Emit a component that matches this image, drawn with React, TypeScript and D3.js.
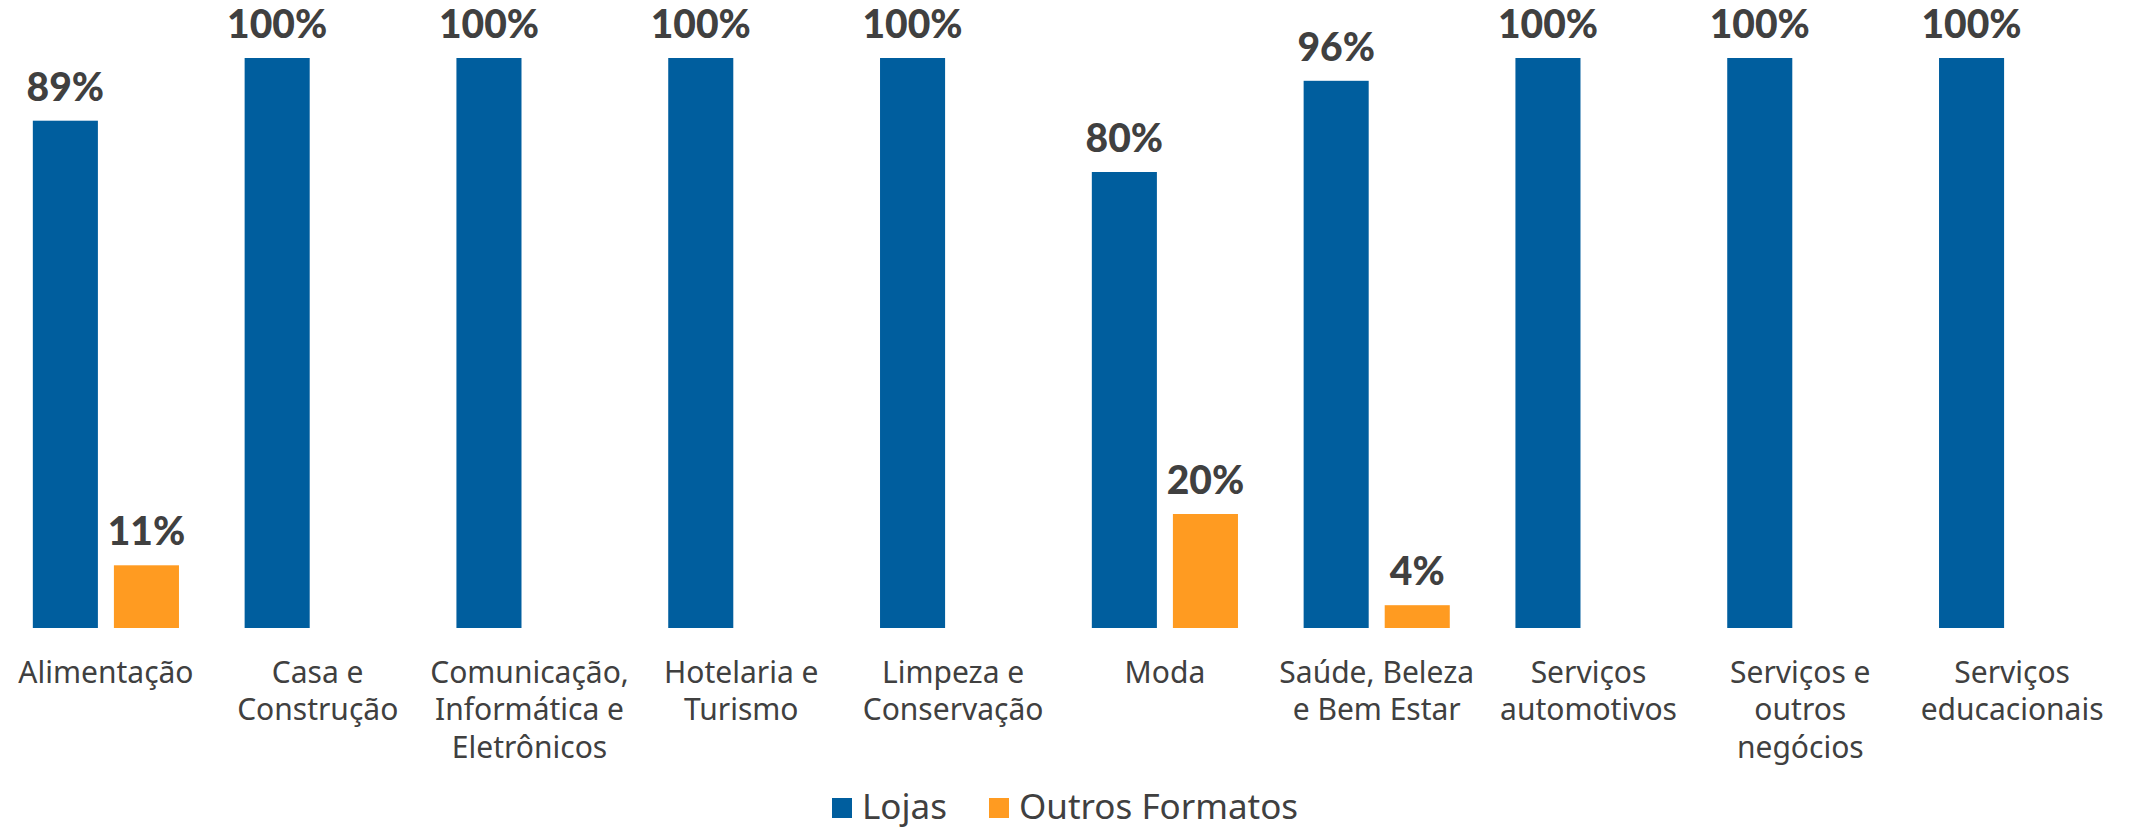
import React from "react";
import * as d3 from "d3";

const categories = [
  "Alimentação",
  "Casa e\nConstrução",
  "Comunicação,\nInformática e\nEletrônicos",
  "Hotelaria e\nTurismo",
  "Limpeza e\nConservação",
  "Moda",
  "Saúde, Beleza\ne Bem Estar",
  "Serviços\nautomotivos",
  "Serviços e\noutros\nnegócios",
  "Serviços\neducacionais",
];
const seriesNames = ["Lojas", "Outros Formatos"];
const lojas: (number | null)[] = [89, 100, 100, 100, 100, 80, 96, 100, 100, 100];
const outros: (number | null)[] = [11, null, null, null, null, 20, 4, null, null, null];
const colors = ["#005E9E", "#FF9B21"];

const W = 2131;
const H = 830;
const baseY = 628;
const topY = 58;

export default function App() {
  const x0 = d3
    .scaleBand<string>()
    .domain(categories)
    .range([0, 2118])
    .paddingInner(0.31)
    .paddingOuter(0.155);
  const x1 = d3
    .scaleBand<string>()
    .domain(seriesNames)
    .range([0, x0.bandwidth()])
    .paddingInner(0.1975);
  const y = d3.scaleLinear().domain([0, 100]).range([baseY, topY]);
  const series = [lojas, outros];

  const labelFont = "'Noto Sans', 'Open Sans', sans-serif";
  const valueFont = "Lato, 'Noto Sans', sans-serif";

  return (
    <svg
      width={W}
      height={H}
      style={{ position: "absolute", left: 0, top: 0, background: "#fff" }}
    >
      {categories.map((c, i) => (
        <g key={c} transform={`translate(${x0(c)},0)`}>
          {series.map((s, k) => {
            const v = s[i];
            if (v == null) return null;
            const bx = x1(seriesNames[k])!;
            return (
              <g key={k}>
                <rect
                  x={bx}
                  y={y(v)}
                  width={x1.bandwidth()}
                  height={baseY - y(v)}
                  fill={colors[k]}
                />
                <text
                  x={bx + x1.bandwidth() / 2}
                  y={y(v) - 20}
                  textAnchor="middle"
                  fontFamily={valueFont}
                  fontWeight={900}
                  fontSize={39}
                  fill="#404040"
                >
                  {v}%
                </text>
              </g>
            );
          })}
          {c.split("\n").map((line, j) => (
            <text
              key={j}
              x={x0.bandwidth() / 2}
              y={683 + j * 37.4}
              textAnchor="middle"
              fontFamily={labelFont}
              fontSize={30}
              fill="#404040"
            >
              {line}
            </text>
          ))}
        </g>
      ))}
      <g>
        {[
          { x: 832, tx: 862, name: seriesNames[0], color: colors[0] },
          { x: 989, tx: 1019, name: seriesNames[1], color: colors[1] },
        ].map((l) => (
          <g key={l.name}>
            <rect x={l.x} y={798} width={20} height={20} fill={l.color} />
            <text
              x={l.tx}
              y={819}
              fontFamily={labelFont}
              fontSize={35}
              fill="#404040"
            >
              {l.name}
            </text>
          </g>
        ))}
      </g>
    </svg>
  );
}
